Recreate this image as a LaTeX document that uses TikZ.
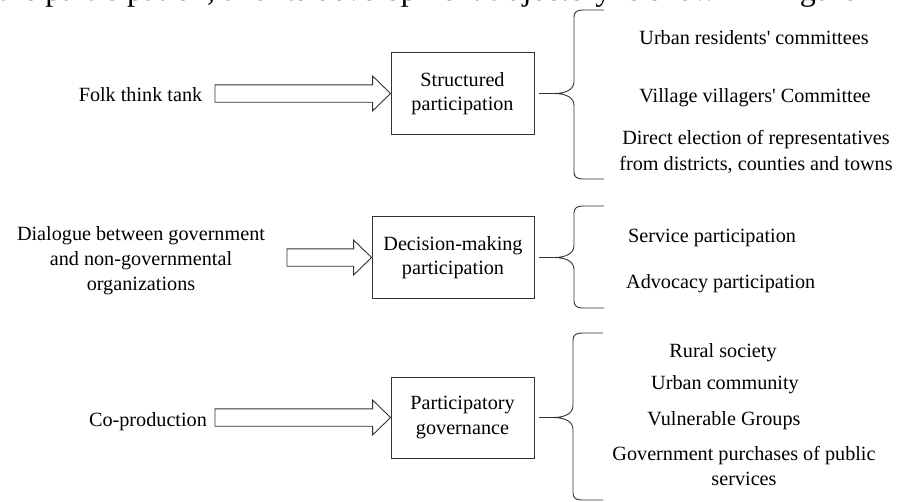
\documentclass[tikz,border=0pt]{standalone}
\usepackage{fontspec}
\setmainfont{Liberation Serif}[Ligatures=TeXOff]
\usetikzlibrary{calc}
\newcommand{\mybrace}[4]{% #1 vertical x, #2 tip y, #3 top y, #4 bottom y
  \draw[bracestyle] (#1+30,#3) -- (#1+9,#3) .. controls (#1+3,#3) and (#1,#3+2) .. (#1,#3+7)
    -- (#1,#2-12) .. controls (#1,#2-4) and (#1-8,#2) .. (#1-20,#2)
    .. controls (#1-8,#2) and (#1,#2+4) .. (#1,#2+12)
    -- (#1,#4-7) .. controls (#1,#4-2) and (#1+3,#4) .. (#1+9,#4) -- (#1+30,#4);}
\begin{document}
\begin{tikzpicture}[x=1pt,y=-1pt,
  txt/.style={inner sep=0pt,font=\fontsize{20.2}{25.5}\selectfont},
  stagebox/.style={draw=black!80,line width=0.9pt,inner sep=0pt,align=center,font=\fontsize{20.2}{24.5}\selectfont},
  blockarrow/.style={draw=black!80,line width=0.9pt,fill=white,line join=miter},
  link/.style={draw=black!80,line width=0.9pt},
  bracestyle/.style={draw=black!80,line width=0.9pt}]
\useasboundingbox (0,0) rectangle (901,501);

% clipped line of running text at the top edge (only its descenders show)
\node[anchor=base west,inner sep=0pt,font=\fontsize{32}{38}\selectfont] (topline) at (-2,0.5) {the participation, and its development trajectory is shown in Figure};

% stage boxes
\node[stagebox,minimum width=143pt,minimum height=81.6pt] (b1) at (462.5,93.5) {Structured\\participation};
\node[stagebox,minimum width=162pt,minimum height=81.6pt] (b2) at (453,257.5) {Decision-making\\participation};
\node[stagebox,minimum width=143pt,minimum height=81pt] (b3) at (462.5,417.5) {Participatory\\governance};

% left texts
\node[txt,anchor=base] (t1) at (140.5,101.3) {Folk think tank};
\node[txt,align=center,font=\fontsize{20.2}{25}\selectfont] (t2) at (141,260.6) {Dialogue between government\\and non-governmental\\organizations};
\node[txt,anchor=base] (t3) at (148,426.3) {Co-production};

% hollow block arrows
\coordinate (a1) at (215,93.5);
\coordinate (a2) at (287,257.5);
\coordinate (a3) at (215,417.5);
\foreach \s/\b in {a1/b1,a2/b2,a3/b3}{
  \draw[blockarrow] let \p1=(\s), \p2=(\b.west) in
    (\x1,\y2+8.7pt) -- (\x2-18pt,\y2+8.7pt) -- (\x2-18pt,\y2+17.5pt) -- (\x2,\y2)
    -- (\x2-18pt,\y2-17.5pt) -- (\x2-18pt,\y2-8.7pt) -- (\x1,\y2-8.7pt) -- cycle;
}

% brace tips and links
\coordinate (k1) at (554,93.5);
\coordinate (k2) at (554,257.5);
\coordinate (k3) at (553,417.5);
\draw[link] ([xshift=5pt]b1.east) -- (k1);
\draw[link] ([xshift=5pt]b2.east) -- (k2);
\draw[link] ([xshift=5pt]b3.east) -- (k3);

% braces
\mybrace{574}{93.5}{10}{179}
\mybrace{574}{257.5}{206}{308}
\mybrace{573}{417.5}{333}{500}

% right texts
\node[txt,anchor=base] (r11) at (754,44) {Urban residents' committees};
\node[txt,anchor=base] (r12) at (755,102) {Village villagers' Committee};
\node[txt,align=center,font=\fontsize{20.2}{26}\selectfont] (r13) at (756,151.6) {Direct election of representatives\\from districts, counties and towns};
\node[txt,anchor=base west] (r21) at (628,242) {Service participation};
\node[txt,anchor=base west] (r22) at (626,288.7) {Advocacy participation};
\node[txt,anchor=base] (r31) at (723,357.7) {Rural society};
\node[txt,anchor=base] (r32) at (725,389.7) {Urban community};
\node[txt,anchor=base] (r33) at (724,425.3) {Vulnerable Groups};
\node[txt,align=center,font=\fontsize{20.2}{25}\selectfont] (r34) at (744,466) {Government purchases of public\\services};
\end{tikzpicture}
\end{document}
